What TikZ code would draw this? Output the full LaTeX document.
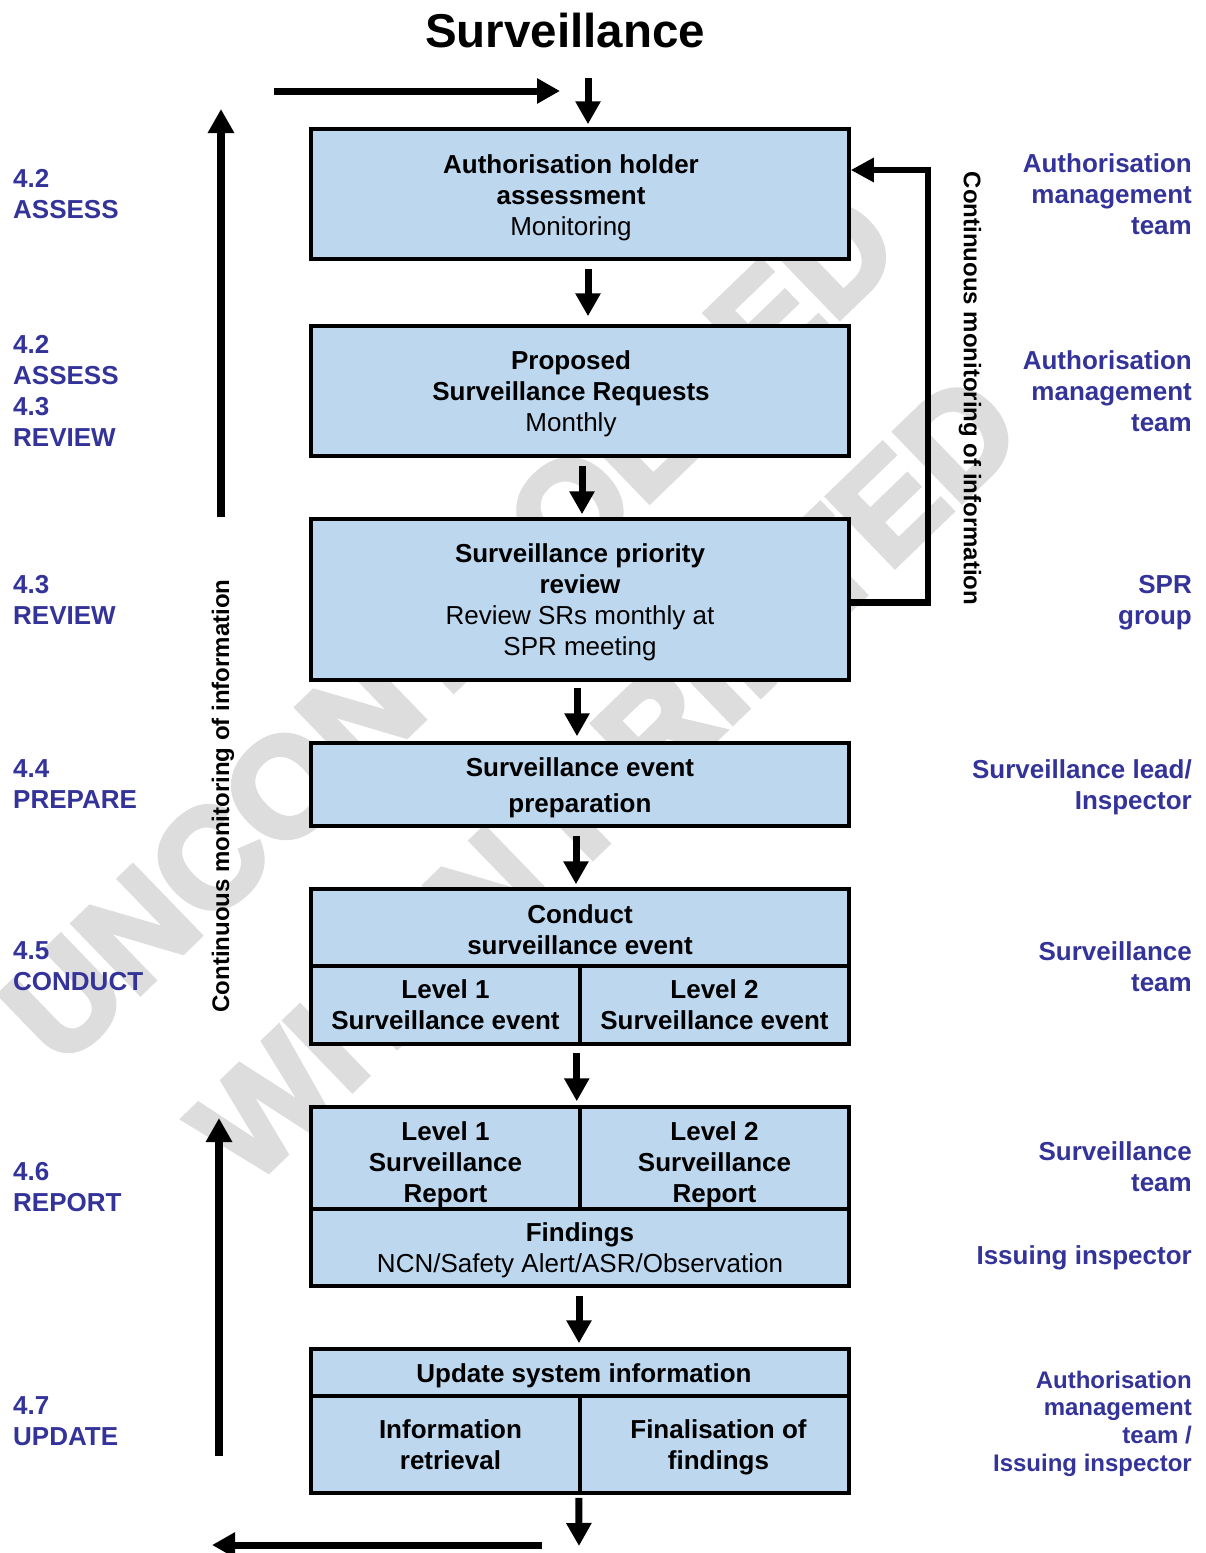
\documentclass[tikz,border=0pt]{standalone}
\usepackage{fontspec}
\setmainfont{Liberation Sans}
\newfontfamily\wmfont{Liberation Sans}[FakeBold=4]
\usetikzlibrary{arrows.meta,calc}
\definecolor{boxfill}{RGB}{189,215,238}
\definecolor{labelblue}{RGB}{51,51,153}
\definecolor{wmgray}{RGB}{221,221,221}
\newcommand\bxfont{\fontsize{26}{31}\selectfont}
\newcommand\smfont{\fontsize{24}{27.7}\selectfont}
\begin{document}
\begin{tikzpicture}[x=1pt,y=-1pt,
  cell/.style={draw=black, line width=3.5pt, fill=boxfill, rectangle,
    inner sep=0pt},
  txt/.style={inner sep=0pt, align=center, font=\bxfont},
  lab/.style={inner sep=0pt, align=left, anchor=west, text=labelblue,
    font=\bxfont\bfseries},
  rlab/.style={inner sep=0pt, align=right, anchor=east, text=labelblue,
    font=\bxfont\bfseries},
  side/.style={inner sep=0pt, font=\fontsize{24}{28}\selectfont\bfseries},
  wm/.style={inner sep=0pt, text=wmgray, rotate=44,
    font=\wmfont\fontsize{140}{140}\selectfont\bfseries},
  flow/.style={line width=7pt, -{Triangle[length=23pt,width=24pt]}},
  bigflow/.style={line width=7.5pt, -{Triangle[length=24pt,width=25pt]}},
  loopline/.style={line width=6.5pt, line join=miter,
    -{Triangle[length=23pt,width=23pt]}}]

\useasboundingbox (0,0) rectangle (1205,1553);

% watermark behind everything
\node[wm] (wm1) at (450,627) {UNCONTROLLED};
\node[wm] (wm2) at (606,778) {WHEN PRINTED};

% title
\node[inner sep=0pt, font=\fontsize{47.5}{50}\selectfont\bfseries] (title) at (565,31) {Surveillance};

% process boxes (frames first, then their texts)
\node[cell, minimum width=538pt, minimum height=130pt] (b1) at (580,194) {};
\node[cell, minimum width=538pt, minimum height=130pt] (b2) at (580,391) {};
\node[cell, minimum width=538pt, minimum height=161pt] (b3) at (580,599.5) {};
\node[cell, minimum width=538pt, minimum height=83pt] (b4) at (580,784.5) {};
\node[cell, minimum width=538pt, minimum height=77pt] (b5t) at (580,927.5) {};
\node[cell, minimum width=269pt, minimum height=78pt] (b5l) at (445.5,1005) {};
\node[cell, minimum width=269pt, minimum height=78pt] (b5r) at (714.5,1005) {};
\node[cell, minimum width=269pt, minimum height=102pt] (b6l) at (445.5,1158) {};
\node[cell, minimum width=269pt, minimum height=102pt] (b6r) at (714.5,1158) {};
\node[cell, minimum width=538pt, minimum height=77pt] (b6b) at (580,1247.5) {};
\node[cell, minimum width=538pt, minimum height=47pt] (b7t) at (580,1372.5) {};
\node[cell, minimum width=269pt, minimum height=97pt] (b7l) at (445.5,1444.5) {};
\node[cell, minimum width=269pt, minimum height=97pt] (b7r) at (714.5,1444.5) {};

\node[txt] (b1x) at ($(b1.center)+(-9,4)$)
  {\textbf{Authorisation holder}\\\textbf{assessment}\\Monitoring};
\node[txt] (b2x) at ($(b2.center)+(-9,3)$)
  {\textbf{Proposed}\\\textbf{Surveillance Requests}\\Monthly};
\node[txt] (b3x) at ($(b3.center)+(0,3)$)
  {\textbf{Surveillance priority}\\\textbf{review}\\Review SRs monthly at\\SPR meeting};
\node[txt] (b4x) at ($(b4.center)+(0,3)$)
  {\textbf{Surveillance event}\\[5pt]\textbf{preparation}};
\node[txt] (b5tx) at ($(b5t.center)+(0,2)$)
  {\textbf{Conduct}\\\textbf{surveillance event}};
\node[txt] (b5lx) at (b5l.center) {\textbf{Level 1}\\\textbf{Surveillance event}};
\node[txt] (b5rx) at (b5r.center) {\textbf{Level 2}\\\textbf{Surveillance event}};
\node[txt] (b6lx) at ($(b6l.center)+(0,6.5)$)
  {\textbf{Level 1}\\\textbf{Surveillance}\\\textbf{Report}};
\node[txt] (b6rx) at ($(b6r.center)+(0,6.5)$)
  {\textbf{Level 2}\\\textbf{Surveillance}\\\textbf{Report}};
\node[txt] (b6bx) at ($(b6b.center)+(0,3)$)
  {\textbf{Findings}\\NCN/Safety Alert/ASR/Observation};
\node[txt] (b7tx) at ($(b7t.center)+(4,3)$) {\textbf{Update system information}};
\node[txt] (b7lx) at ($(b7l.center)+(5,0)$) {\textbf{Information}\\\textbf{retrieval}};
\node[txt] (b7rx) at ($(b7r.center)+(4,3)$) {\textbf{Finalisation of}\\\textbf{findings}};

% free ends of the entry and exit arrows
\coordinate (in) at (588,78);
\coordinate (out) at (579,1546);
\coordinate (feedA) at (274,91);
\coordinate (feedB) at (560,91);
\coordinate (backA) at (542,1545);
\coordinate (backB) at (212,1545);
\coordinate (upA1) at (221,517);
\coordinate (upB1) at (221,109);
\coordinate (upA2) at (219,1456);
\coordinate (upB2) at (219,1118);
\coordinate (loopc) at (928,170);

% main flow
\draw[flow] (in) -- ($(b1.north)+(8,-3)$);
\draw[flow] ($(b1.south)+(8,8)$) -- ($(b2.north)+(8,-8)$);
\draw[flow] ($(b2.south)+(2,8)$) -- ($(b3.north)+(2,-3)$);
\draw[flow] ($(b3.south)+(-3,6)$) -- ($(b4.north)+(-3,-5)$);
\draw[flow] ($(b4.south)+(-4,8)$) -- ($(b5t.north)+(-4,-3)$);
\draw[flow] ($(b5l.south east)+(-5,7)$) -- ($(b6l.north east)+(-5,-4)$);
\draw[flow] ($(b6b.south)+(-1,8)$) -- ($(b7t.north)+(-1,-4)$);
\draw[flow] ($(b7l.south east)+(-3,3)$) -- (out);

% entry and exit arrows
\draw[flow] (feedA) -- (feedB);
\draw[flow] (backA) -- (backB);

% upward monitoring arrows on the left
\draw[bigflow] (upA1) -- (upB1);
\draw[bigflow] (upA2) -- (upB2);
\node[side, rotate=90] (monl) at (223,796) {Continuous monitoring of information};

% feedback loop on the right
\draw[loopline] ($(b3.east)+(0,3)$) -| (loopc) -- ($(b1.east)+(0,-24)$);
\node[side, rotate=-90] (monr) at (970,388.5) {Continuous monitoring of information};

% process stages
\node[lab] (l1) at (13,194) {4.2\\ASSESS};
\node[lab] (l2) at (13,391) {4.2\\ASSESS\\4.3\\REVIEW};
\node[lab] (l3) at (13,599.5) {4.3\\REVIEW};
\node[lab] (l4) at (13,784.5) {4.4\\PREPARE};
\node[lab] (l5) at (13,966.5) {4.5\\CONDUCT};
\node[lab] (l6) at (13,1187.5) {4.6\\REPORT};
\node[lab] (l7) at (13,1421.5) {4.7\\UPDATE};

% responsible parties
\node[rlab] (r1) at (1192,194.5) {Authorisation\\management\\team};
\node[rlab] (r2) at (1192,391) {Authorisation\\management\\team};
\node[rlab] (r3) at (1192,602.5) {SPR\\group};
\node[rlab] (r4) at (1192,787.5) {Surveillance lead/\\Inspector};
\node[rlab] (r5) at (1192,966.5) {Surveillance\\team};
\node[rlab] (r6) at (1192,1166.5) {Surveillance\\team};
\node[rlab] (r7) at (1192,1258) {Issuing inspector};
\node[rlab, font=\smfont\bfseries] (r8) at (1192,1423.5)
  {Authorisation\\management\\team /\\Issuing inspector};

\end{tikzpicture}
\end{document}
